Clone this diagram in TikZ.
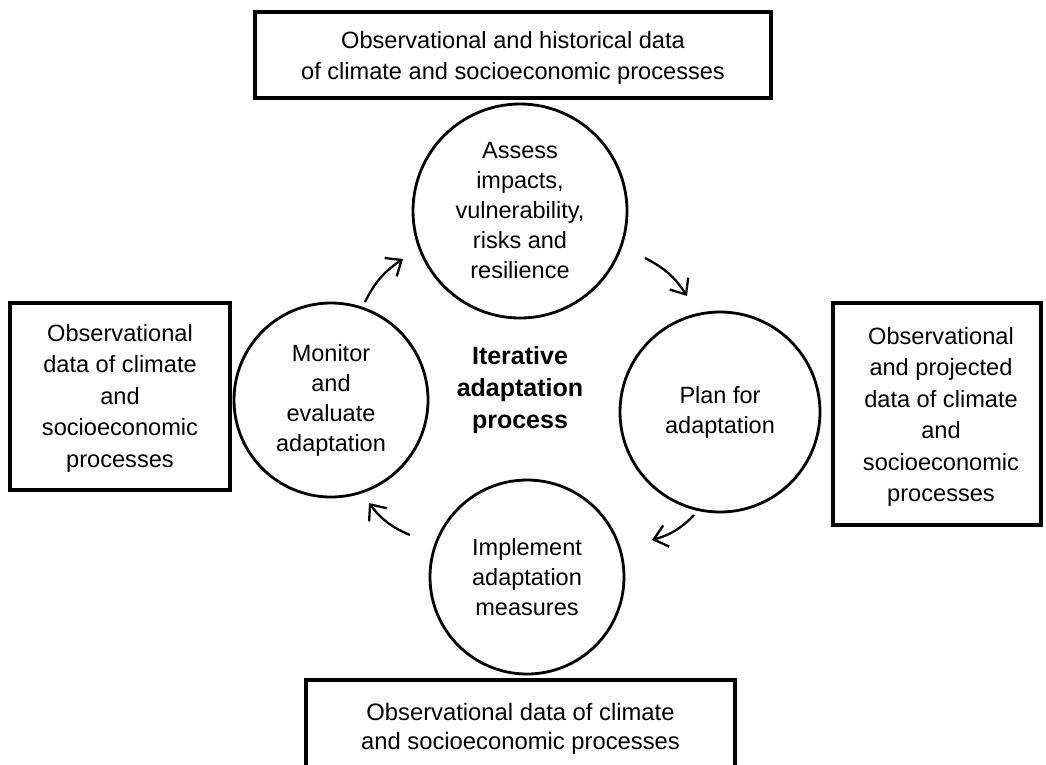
\documentclass[tikz,border=0pt]{standalone}
\usepackage{fontspec}
\setmainfont{Liberation Sans}
\usetikzlibrary{arrows.meta}
\begin{document}
\begin{tikzpicture}[x=1pt,y=-1pt,
  databox/.style={draw,line width=3.6pt,inner sep=0pt},
  boxtext/.style={align=center,inner sep=0pt,font=\fontsize{23.6}{31.5}\selectfont},
  stage/.style={draw,circle,line width=2.8pt,align=center,inner sep=0pt,
    font=\fontsize{23.5}{30}\selectfont},
  cyc/.style={line width=2.3pt,-{Straight Barb[length=13pt,width=22pt,line width=2.3pt]},bend left=15}]
\useasboundingbox (0,0) rectangle (1046,764);
\clip (0,0) rectangle (1046,764);
% data boxes
\node[databox,minimum width=516pt,minimum height=86pt] (tb) at (513,55) {};
\node[boxtext] (tbt) at (513,58)
  {Observational and historical data\\of climate and socioeconomic processes};
\node[databox,minimum width=220pt,minimum height=187pt] (lb) at (120,396.5) {};
\node[boxtext] (lbt) at (120,398)
  {Observational\\data of climate\\and\\socioeconomic\\processes};
\node[databox,minimum width=208pt,minimum height=222pt] (rb) at (937,414) {};
\node[boxtext] (rbt) at (941,417)
  {Observational\\and projected\\data of climate\\and\\socioeconomic\\processes};
\node[databox,minimum width=429pt,minimum height=110pt] (bb) at (520.5,735) {};
\node[boxtext,font=\fontsize{23.8}{29}\selectfont] (bbt) at (520.5,729)
  {Observational data of climate\\and socioeconomic processes};
% stages
\node[stage,minimum size=214pt] (assess) at (520,211)
  {Assess\\impacts,\\vulnerability,\\risks and\\resilience};
\node[stage,minimum size=200pt] (plan) at (720,412) {Plan for\\adaptation};
\node[stage,minimum size=194pt] (impl) at (527,577) {Implement\\adaptation\\measures};
\node[stage,minimum size=194pt] (mon) at (331,400) {Monitor\\and\\evaluate\\adaptation};
\node[font=\bfseries\fontsize{25}{32}\selectfont,align=center] (center) at (520,390)
  {Iterative\\adaptation\\process};
% cycle arrows
\coordinate (a1s) at (365,302); \coordinate (a1e) at (403,259);
\coordinate (a2s) at (645,258); \coordinate (a2e) at (687,296);
\coordinate (a3s) at (694,515); \coordinate (a3e) at (652,540);
\coordinate (a4s) at (410,535); \coordinate (a4e) at (369,503);
\draw[cyc] (a1s) to (a1e);
\draw[cyc] (a2s) to (a2e);
\draw[cyc] (a3s) to (a3e);
\draw[cyc] (a4s) to (a4e);
\end{tikzpicture}
\end{document}
